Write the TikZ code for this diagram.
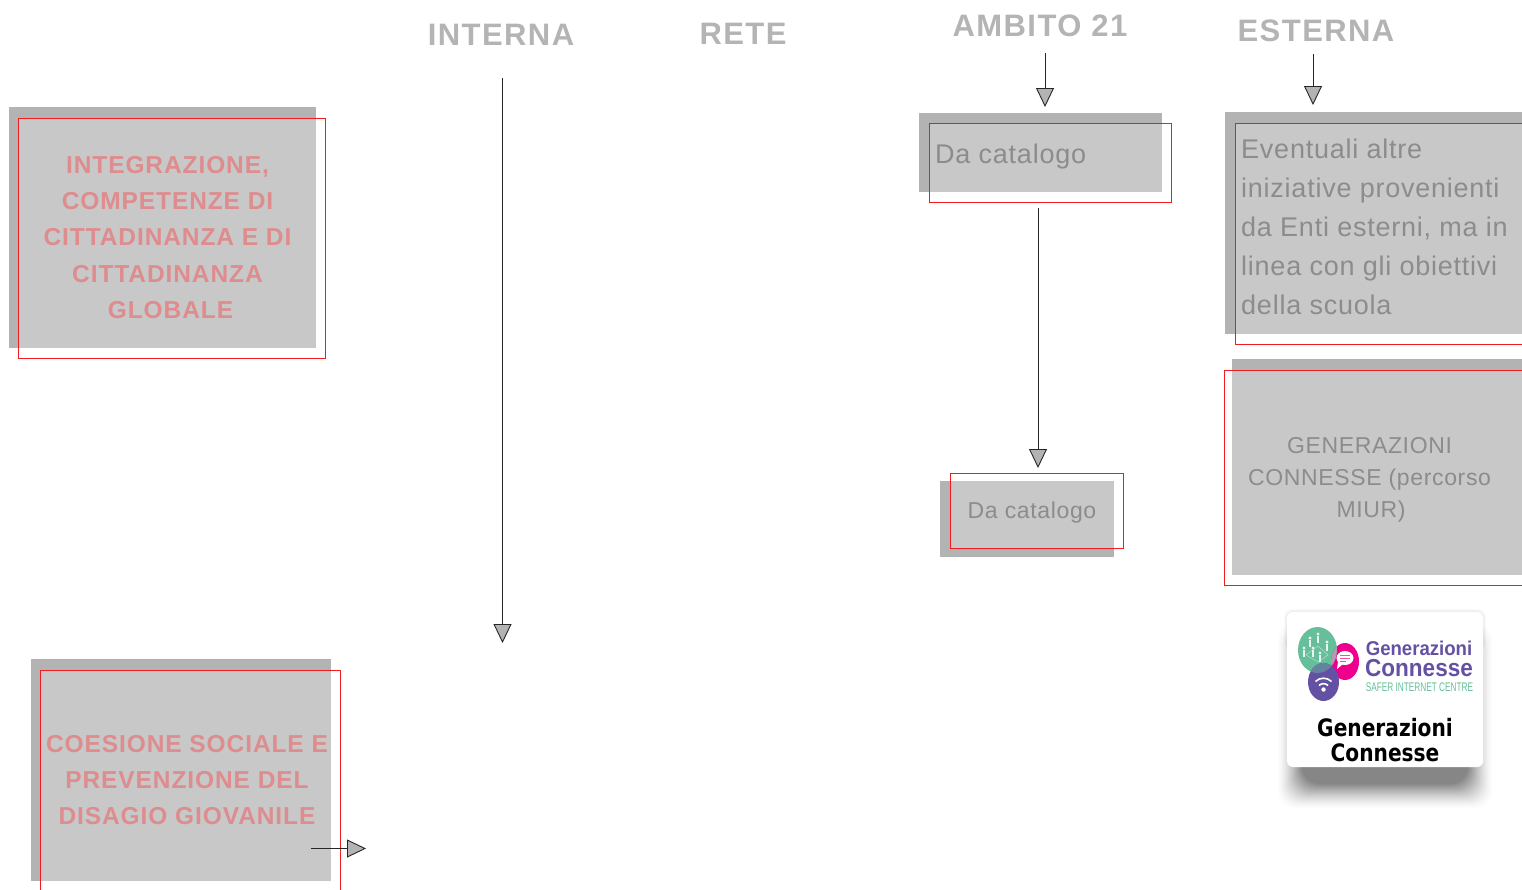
\documentclass[tikz,border=0pt]{standalone}
\usepackage{fontspec}
\usetikzlibrary{arrows.meta}
\setmainfont{Liberation Sans}
\newfontfamily\hdfont[LetterSpace=4.6,Ligatures=NoCommon]{Liberation Sans}
\newfontfamily\redfont[LetterSpace=3.7,Ligatures=NoCommon]{Liberation Sans}
\newfontfamily\grayfont[LetterSpace=2.8,Ligatures=NoCommon]{Liberation Sans}
\newfontfamily\logofont[FakeStretch=0.84]{DejaVu Sans}
\definecolor{darkbox}{HTML}{B3B3B3}
\definecolor{lightbox}{HTML}{C8C8C8}
\definecolor{redline}{HTML}{F01C20}
\definecolor{heading}{HTML}{B4B4B4}
\definecolor{redtext}{HTML}{DE8C8E}
\definecolor{graytext}{HTML}{8C8C8C}
\definecolor{gpurple}{HTML}{6551A3}
\definecolor{ggreen}{HTML}{66BF9B}
\definecolor{gpink}{HTML}{EC008C}
\tikzset{
  x=1pt,y=-1pt,
  headlabel/.style={text=heading,font=\hdfont\bfseries\fontsize{31}{36}\selectfont,inner sep=0,anchor=center},
  redlabel/.style={text=redtext,font=\redfont\bfseries\fontsize{24.5}{36.3}\selectfont,align=center,inner sep=0,anchor=center},
  graylabel/.style={text=graytext,font=\grayfont\fontsize{27}{39}\selectfont,inner sep=0},
  graysmall/.style={text=graytext,font=\grayfont\fontsize{23}{32}\selectfont,inner sep=0,align=center},
  redframe/.style={draw=redline,line width=1.3pt},
  thinframe/.style={draw=redline,line width=1.1pt},
  flow/.style={draw=black!85,line width=0.8pt,-{Triangle[length=19pt,width=18pt,fill=darkbox,line width=0.9pt]}},
}
\begin{document}
\begin{tikzpicture}
\useasboundingbox (0,0) rectangle (1522,889);
\clip (0,0) rectangle (1522,889);
% headings
\node[headlabel] (hInterna) at (501,34.5) {INTERNA};
\node[headlabel] (hRete) at (743,33.5) {RETE};
\node[headlabel] (hAmbito) at (1040,25.5) {AMBITO 21};
\node[headlabel] (hEsterna) at (1316,30.5) {ESTERNA};
% box 1
\fill[darkbox] (9,107) rectangle (316,348);
\fill[lightbox] (18,118) rectangle (316,348);
\node[redframe,minimum width=307pt,minimum height=240pt,inner sep=0] (b1) at (172,238.5) {};
\node[redlabel] (t1) at (167.5,237.5) {INTEGRAZIONE,\\COMPETENZE DI\\CITTADINANZA E DI\\CITTADINANZA\\\hspace{6pt}GLOBALE};
% box 2
\fill[darkbox] (31,659) rectangle (331,881);
\fill[lightbox] (40,670) rectangle (331,881);
\node[redframe,minimum width=300pt,minimum height=224pt,inner sep=0] (b2) at (190.5,782.5) {};
\node[redlabel] (t2) at (187,780) {COESIONE SOCIALE E\\PREVENZIONE DEL\\DISAGIO GIOVANILE};
% box 3
\fill[darkbox] (919,113) rectangle (1162,192);
\fill[lightbox] (929,123) rectangle (1162,192);
\node[thinframe,minimum width=242.5pt,minimum height=79.5pt,inner sep=0] (b3) at (1050.5,163) {};
\node[graylabel,anchor=west] (t3) at (935,157) {Da catalogo};
% box 4
\fill[darkbox] (1225,112) rectangle (1522,334);
\fill[lightbox] (1235,123) rectangle (1522,334);
\node[thinframe,minimum width=295.5pt,minimum height=221.5pt,inner sep=0] (b4) at (1383,234) {};
\node[graylabel,align=left,anchor=north west] (t4) at (1241,138.5) {Eventuali altre\\iniziative provenienti\\da Enti esterni, ma in\\linea con gli obiettivi\\della scuola};
% box 5
\fill[darkbox] (1232,359) rectangle (1522,575);
\fill[lightbox] (1232,370) rectangle (1522,575);
\node[redframe,minimum width=306pt,minimum height=215pt,inner sep=0] (b5) at (1377.5,478) {};
\node[graysmall] (t5) at (1369.5,480) {GENERAZIONI\\CONNESSE (percorso\\\hspace{3pt}MIUR)};
% box 6
\fill[darkbox] (940,481) rectangle (1114,557);
\fill[lightbox] (950,481) rectangle (1114,548);
\node[redframe,minimum width=173pt,minimum height=75pt,inner sep=0] (b6) at (1037,511) {};
\node[graysmall] (t6) at (1032,512.5) {Da catalogo};
% arrows
\coordinate (a1s) at (502.5,78); \coordinate (a1e) at (502.5,643);
\coordinate (a2s) at (1045,53); \coordinate (a2e) at (1045,107);
\coordinate (a3s) at (1313,54); \coordinate (a3e) at (1313,105);
\coordinate (a4s) at (1038,208); \coordinate (a4e) at (1038,468);
\coordinate (a5s) at (311,848.5); \coordinate (a5e) at (366,848.5);
\draw[flow] (a1s) -- (a1e);
\draw[flow] (a2s) -- (a2e);
\draw[flow] (a3s) -- (a3e);
\draw[flow] (a4s) -- (a4e);
\draw[flow] (a5s) -- (a5e);
% logo card shadow
\foreach \g in {1,...,26}{
  \pgfmathsetmacro{\shadeop}{0.003+0.0016*\g}
  \fill[black,opacity=\shadeop,rounded corners=18pt]
    ({1276+\g},{622+\g}) rectangle ({1494-\g},{810-\g});
}
\foreach \g in {0,1,2}{
  \fill[black,opacity=0.025,rounded corners=8pt]
    ({1284+\g},{609+\g}) rectangle ({1486-\g},{650});
}
\fill[white,rounded corners=6pt] (1287,612) rectangle (1483,767);
% logo
\fill[ggreen] (1317.5,650) ellipse [x radius=19.5,y radius=23];
\fill[gpink] (1345,661.5) ellipse [x radius=14,y radius=18.5];
\fill[gpurple] (1323.5,682) ellipse [x radius=15.5,y radius=19];
\begin{scope}
\clip (1317.5,650) ellipse [x radius=19.5,y radius=23];
\fill[gpink!35!ggreen!75!white] (1345,661.5) ellipse [x radius=14,y radius=18.5];
\fill[gpurple!55!ggreen] (1323.5,682) ellipse [x radius=15.5,y radius=19];
\end{scope}
\draw[white,opacity=.5,line width=.5pt] (1306,655) -- (1318,646) -- (1328,655) -- (1318,662) -- cycle;
\foreach \px/\py in {1310/638,1318/634,1327/642,1313/648,1320/653,1304/648}{
  \fill[white,opacity=.85] (\px,\py) circle [radius=1.6];
  \fill[white,opacity=.85] ({\px-1.3},{\py+2}) rectangle ({\px+1.3},{\py+9});
}
% speech bubble
\fill[white] (1345,658) ellipse [x radius=8.5,y radius=7];
\fill[white] (1338,662) -- (1343,664) -- (1337,669) -- cycle;
\draw[gpink!70,line width=1pt] (1340,655.5) -- (1350,655.5) (1340,658.5) -- (1350,658.5) (1340,661.5) -- (1346,661.5);
% wifi
\fill[white] (1323.5,689.5) circle [radius=2.2];
\draw[white,line width=1.6pt] (1319,685.5) arc [start angle=-135,end angle=-45,radius=6.4];
\draw[white,line width=1.6pt] (1315.5,681.5) arc [start angle=-135,end angle=-45,radius=11.3];
\node[inner sep=0,text=gpurple,font=\bfseries\fontsize{20}{20}\selectfont] (l1) at (1419,648) {\addfontfeature{FakeStretch=0.93}Generazioni};
\node[inner sep=0,text=gpurple,font=\bfseries\fontsize{24.5}{24}\selectfont] (l2) at (1419,668) {\addfontfeature{FakeStretch=0.92}Connesse};
\node[inner sep=0,text=ggreen,font=\fontsize{12.5}{12}\selectfont] (l3) at (1419.5,687) {\addfontfeature{FakeStretch=0.66}SAFER INTERNET CENTRE};
\node[inner sep=0,text=black,align=center,font=\logofont\bfseries\fontsize{24}{25}\selectfont] (l4) at (1385,740) {Generazioni\\Connesse};
\end{tikzpicture}
\end{document}
